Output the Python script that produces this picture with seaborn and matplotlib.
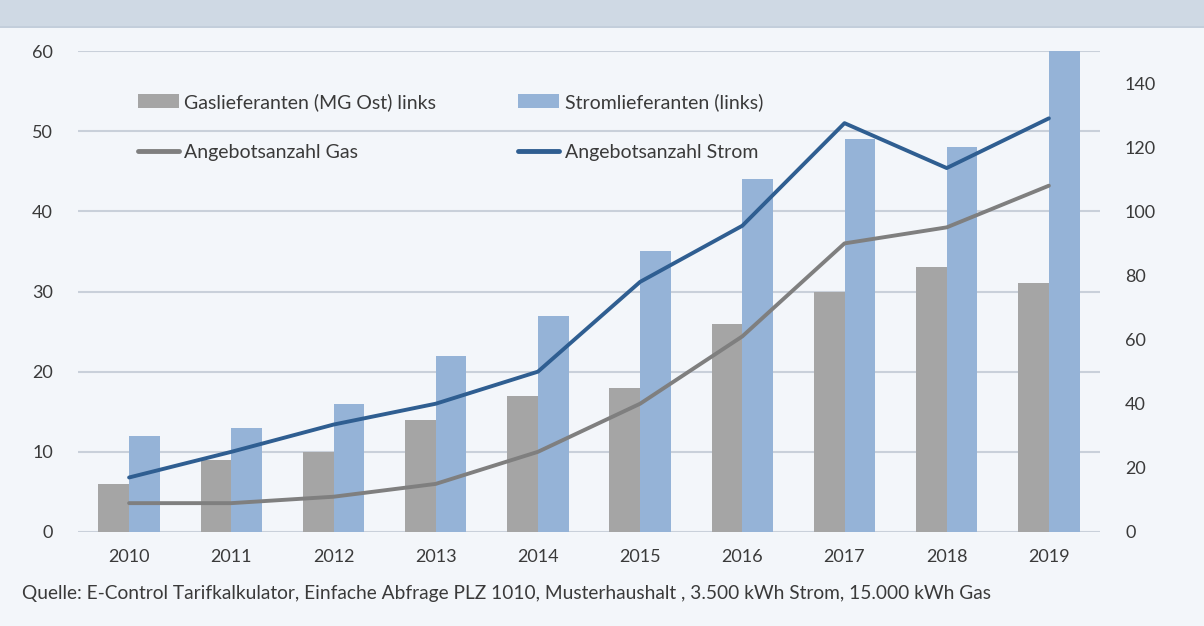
import numpy as np
import pandas as pd
import matplotlib
matplotlib.use("Agg")
import matplotlib.pyplot as plt
from matplotlib.patches import Rectangle, Patch
from matplotlib.lines import Line2D
import seaborn as sns

# ------------------------------------------------------------
# Daten
# ------------------------------------------------------------
years = ["2010", "2011", "2012", "2013", "2014", "2015", "2016", "2017", "2018", "2019"]
gas_lieferanten = [6, 9, 10, 14, 17, 18, 26, 30, 33, 31]
strom_lieferanten = [12, 13, 16, 22, 27, 35, 44, 49, 48, 60]
angebote_gas = [9, 9, 11, 15, 25, 40, 61, 90, 95, 108]
angebote_strom = [17, 25, 33.5, 40, 50, 78, 95.5, 127.5, 113.5, 129]

label_gas = "Gaslieferanten (MG Ost) links"
label_strom = "Stromlieferanten (links)"
label_ang_gas = "Angebotsanzahl Gas"
label_ang_strom = "Angebotsanzahl Strom"
quelle = ("Quelle: E-Control Tarifkalkulator, Einfache Abfrage PLZ 1010, "
          "Musterhaushalt , 3.500 kWh Strom, 15.000 kWh Gas")

C_GAS = "#A5A5A5"
C_STROM = "#95B3D7"
C_LGAS = "#7F7F7F"
C_LSTROM = "#2F5E91"
BG = "#F3F6FA"
GRID = "#C9D0DA"
TXT = "#3A3A3A"

bars = pd.DataFrame({
    "Jahr": years * 2,
    "Wert": gas_lieferanten + strom_lieferanten,
    "Serie": [label_gas] * len(years) + [label_strom] * len(years),
})

# ------------------------------------------------------------
# Plot
# ------------------------------------------------------------
sns.set_style("white")
plt.rcParams["font.family"] = ["Lato", "DejaVu Sans"]

fig = plt.figure(figsize=(12.04, 6.26), dpi=100, facecolor=BG)
# Kopfband (abgeschnittener Titelbereich)
fig.patches.append(Rectangle((0, 1 - 26 / 626), 1, 26 / 626, transform=fig.transFigure,
                             facecolor="#CFD9E4", edgecolor="none", zorder=0))
fig.patches.append(Rectangle((0, 1 - 28 / 626), 1, 2 / 626, transform=fig.transFigure,
                             facecolor="#C3CEDB", edgecolor="none", zorder=0))

ax = fig.add_axes([78 / 1204, 94 / 626, 1022 / 1204, 481 / 626])
ax.set_facecolor(BG)

sns.barplot(data=bars, x="Jahr", y="Wert", hue="Serie", order=years,
            palette=[C_GAS, C_STROM], width=0.6, gap=0, saturation=1,
            linewidth=0, edgecolor="none", legend=False, ax=ax, zorder=2)

ax.set_ylim(0, 60)
ax.set_xlim(-0.5, len(years) - 0.5)
ax.set_yticks(range(0, 61, 10))
ax.yaxis.grid(True, color=GRID, linewidth=1.5, zorder=0)
ax.set_axisbelow(True)
ax.set_xlabel("")
ax.set_ylabel("")
for s in ax.spines.values():
    s.set_visible(False)
ax.tick_params(axis="both", length=0, labelsize=13, labelcolor=TXT)
ax.tick_params(axis="y", pad=18)
ax.tick_params(axis="x", pad=12)

ax2 = ax.twinx()
x_pos = np.arange(len(years))
sns.lineplot(x=x_pos, y=angebote_gas, color=C_LGAS, linewidth=2.8, ax=ax2, zorder=3)
sns.lineplot(x=x_pos, y=angebote_strom, color=C_LSTROM, linewidth=2.8, ax=ax2, zorder=3)
ax2.set_ylim(0, 150)
ax2.set_yticks(range(0, 141, 20))
ax2.set_xlim(-0.5, len(years) - 0.5)
for s in ax2.spines.values():
    s.set_visible(False)
ax2.tick_params(axis="y", length=0, labelsize=13, labelcolor=TXT, pad=18)
ax2.grid(False)

handles = [
    Patch(facecolor=C_GAS, edgecolor="none"),
    Line2D([], [], color=C_LGAS, linewidth=3.5),
    Patch(facecolor=C_STROM, edgecolor="none"),
    Line2D([], [], color=C_LSTROM, linewidth=3.5),
]
labels = [label_gas, label_ang_gas, label_strom, label_ang_strom]
leg = ax.legend(handles, labels, ncol=2, frameon=False, fontsize=14,
                loc="upper left", bbox_to_anchor=(52 / 1022, 1 - 34 / 481),
                handlelength=2.1, handleheight=0.75, handletextpad=0.3,
                columnspacing=4.2, labelspacing=1.7, borderaxespad=0)
for t in leg.get_texts():
    t.set_color(TXT)

fig.text(22 / 1204, 1 - 593 / 626, quelle, fontsize=13.8, color=TXT, va="center", ha="left")

fig.savefig("out.png", dpi=100, facecolor=BG)
